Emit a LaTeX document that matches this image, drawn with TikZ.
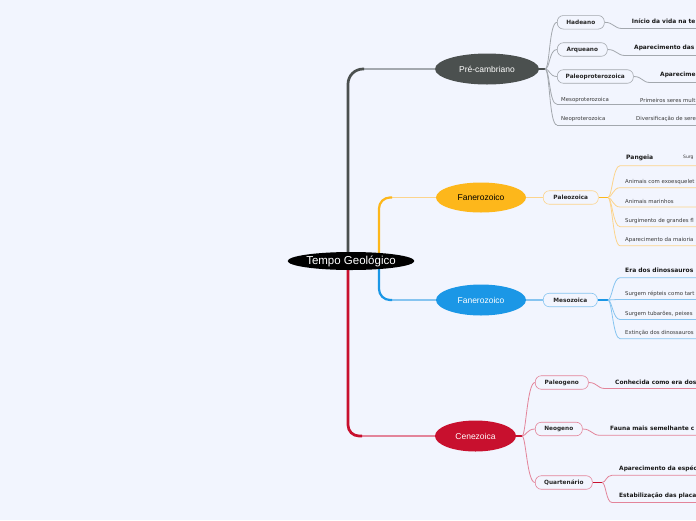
\documentclass[tikz,border=0pt]{standalone}
\usepackage{fontspec}
\setmainfont{Liberation Sans}
\newfontfamily\djvfont{DejaVu Sans}
\usetikzlibrary{shapes.geometric,calc}
\pgfdeclarelayer{back}
\pgfdeclarelayer{bg}
\pgfsetlayers{back,bg,main}
\definecolor{bgc}{HTML}{F2F5FE}
\definecolor{pcc}{HTML}{4B504F}
\definecolor{orc}{HTML}{FDB71B}
\definecolor{blc}{HTML}{1B97E6}
\definecolor{rdc}{HTML}{C8102E}
\definecolor{pcl}{HTML}{A3A8AE}
\definecolor{orl}{HTML}{FCD48C}
\definecolor{bll}{HTML}{86C4F0}
\definecolor{rdl}{HTML}{E3849A}
\definecolor{txt}{HTML}{3A3A3A}
\begin{document}
\begin{tikzpicture}[x=1pt,y=-1pt,
 ell/.style={ellipse, inner sep=0pt, font=\fontsize{8.5}{10}\selectfont},
 sbox/.style={draw=#1, line width=0.6pt, rounded corners=6pt, fill=bgc, inner sep=0pt, minimum height=13.5pt, font=\djvfont\bfseries\fontsize{5.8}{6.5}\selectfont, text=black!85, anchor=west},
 lf/.style={inner sep=0pt, anchor=west, font=\djvfont\fontsize{5.4}{6.5}\selectfont, text=txt},
 lfb/.style={inner sep=0pt, anchor=west, font=\djvfont\bfseries\fontsize{5.9}{7}\selectfont, text=black!90},
 cl/.style={draw=#1, line width=0.8pt},
]
\useasboundingbox (0,0) rectangle (696,520);
\begin{pgfonlayer}{back}
\fill[bgc] (0,0) rectangle (696,520);
\end{pgfonlayer}

% main nodes
\node[ell, fill=black, text=white, minimum width=125pt, minimum height=18pt, font=\fontsize{11.5}{13}\selectfont] (c) at (351,261) {Tempo Geológico};
\node[ell, fill=pcc, text=white, minimum width=104pt, minimum height=31pt] (pc) at (487,69) {Pré-cambriano};
\node[ell, fill=orc, text=black, minimum width=90pt, minimum height=30pt] (fo) at (481,197.5) {Fanerozoico};
\node[ell, fill=blc, text=white, minimum width=90pt, minimum height=31pt] (fb) at (481,300) {Fanerozoico};
\node[ell, fill=rdc, text=white, minimum width=81pt, minimum height=31pt] (ce) at (475.5,436) {Cenezoica};

% Pre-cambriano children
\node[sbox=pcl, minimum width=47pt] (h) at (557,22.3) {Hadeano};
\node[sbox=pcl, minimum width=50pt] (aq) at (557,49.5) {Arqueano};
\node[sbox=pcl, minimum width=76pt] (pp) at (557,76.5) {Paleoproterozoica};
\node[lf] (mp) at (561,100) {Mesoproterozoica};
\node[lf] (np) at (561,118.7) {Neoproterozoica};
\node[lfb] (l1) at (631.7,20.7) {Início da vida na te};
\node[lfb] (l2) at (634,48.3) {Aparecimento das};
\node[lfb] (l3) at (660,75) {Aparecime};
\node[lf] (l4) at (640,100) {Primeiros seres mult};
\node[lf] (l5) at (636,119) {Diversificação de sere};

% Paleozoica
\node[sbox=orl, minimum width=55pt] (pz) at (543,197.5) {Paleozoica};
\node[lfb, font=\djvfont\bfseries\fontsize{6}{7}\selectfont] (p1) at (626,157.5) {Pangeia};
\node[lf, font=\djvfont\fontsize{4.5}{5}\selectfont] (p1b) at (683,157.7) {Surg};
\node[lf] (p2) at (625,181.7) {Animais com exoesquelet};
\node[lf] (p3) at (625,201) {Animais marinhos};
\node[lf] (p4) at (625,221) {Surgimento de grandes fl};
\node[lf] (p5) at (625,239.7) {Aparecimento da maioria};

% Mesozoica
\node[sbox=bll, minimum width=54pt] (mz) at (543,300) {Mesozoica};
\node[lfb, font=\djvfont\bfseries\fontsize{6}{7}\selectfont] (m1) at (625,270.5) {Era dos dinossauros};
\node[lf] (m2) at (625,294) {Surgem répteis como tart};
\node[lf] (m3) at (625,314.3) {Surgem tubarões, peixes};
\node[lf] (m4) at (625,333.3) {Extinção dos dinossauros};

% Cenezoica
\node[sbox=rdl, minimum width=53pt] (pg) at (535,382.5) {Paleogeno};
\node[sbox=rdl, minimum width=47pt] (ng) at (535,429) {Neogeno};
\node[sbox=rdl, minimum width=57pt] (qt) at (535,482.5) {Quartenário};
\node[lfb] (c1) at (615,382) {Conhecida como era dos};
\node[lfb] (c2) at (610,428.7) {Fauna mais semelhante c};
\node[lfb] (c3) at (619,468.3) {Aparecimento da espéc};
\node[lfb] (c4) at (619,495.7) {Estabilização das placa};

% coordinates
\coordinate (tp) at (364,69);
\coordinate (to) at (392,197.5);
\coordinate (tb) at (392,300);
\coordinate (tr) at (362,436);
\coordinate (f1) at (545,69);
\coordinate (mpl) at (557,104.3);
\coordinate (mpe) at (700,104.3);
\coordinate (npl) at (557,125);
\coordinate (npe) at (700,125);
\coordinate (hl) at (622,28.5);   \coordinate (hle) at (700,28.5);
\coordinate (al) at (625,55.5);   \coordinate (ale) at (700,55.5);
\coordinate (pl) at (650,82.5);   \coordinate (ple) at (700,82.5);
\coordinate (f2) at (608,197.5);
\coordinate (f3) at (608,300);
\coordinate (f4) at (522,436);
\coordinate (f5) at (602,482.5);

\begin{pgfonlayer}{bg}
% trunk
\draw[pcl, line width=1.5pt] (tp) -- (pc.west);
\draw[pcc, line width=2.7pt, rounded corners=15pt] ($(c.center)+(-3,0)$) |- (tp);
\draw[orl, line width=1.4pt] (to) -- (fo.west);
\draw[orc, line width=2.2pt, rounded corners=11pt] ($(c.center)+(28,0)$) |- (to);
\draw[bll, line width=1.4pt] (tb) -- (fb.west);
\draw[blc, line width=2.2pt, rounded corners=11pt] ($(c.center)+(28,0)$) |- (tb);
\draw[rdl, line width=1.4pt] (tr) -- (ce.west);
\draw[rdc, line width=2.7pt, rounded corners=11pt] ($(c.center)+(-3,0)$) |- (tr);

% pre-cambriano fan
\draw[pcc, line width=1.8pt] (pc.east) -- (f1);
\foreach \t in {h.west, aq.west, pp.west, mpl, npl}
  \draw[cl=pcl] (f1) .. controls +(5,0) and +(-8,0) .. (\t);
\draw[cl=pcl] (mpl) -- (mpe);
\draw[cl=pcl] (npl) -- (npe);
\draw[cl=pcl] (h.east) .. controls +(9,0) and +(-8,0) .. (hl) -- (hle);
\draw[cl=pcl] (aq.east) .. controls +(9,0) and +(-8,0) .. (al) -- (ale);
\draw[cl=pcl] (pp.east) .. controls +(9,0) and +(-8,0) .. (pl) -- (ple);

% paleozoica
\draw[orl, line width=1.2pt] (fo.east) -- (pz.west);
\draw[orc, line width=1.8pt] (pz.east) -- (f2);
\foreach \y in {165.7,187.7,207,226.7,245.7}
  \draw[cl=orl] (f2) .. controls +(4,0) and +(-7,0) .. (620,\y) -- (700,\y);

% mesozoica
\draw[bll, line width=1.2pt] (fb.east) -- (mz.west);
\draw[blc, line width=1.8pt] (mz.east) -- (f3);
\foreach \y in {277.7,299.5,319.5,338.7}
  \draw[cl=bll] (f3) .. controls +(4,0) and +(-7,0) .. (620,\y) -- (700,\y);

% cenezoica
\draw[rdc, line width=1.8pt] (ce.east) -- (f4);
\foreach \t in {pg.west, ng.west, qt.west}
  \draw[cl=rdl] (f4) .. controls +(4,0) and +(-8,0) .. (\t);
\draw[cl=rdl] (pg.east) .. controls +(9,0) and +(-8,0) .. (605,388.5) -- (700,388.5);
\draw[cl=rdl] (ng.east) .. controls +(9,0) and +(-8,0) .. (600,435.3) -- (700,435.3);
\draw[rdc, line width=1.2pt] (qt.east) -- (f5);
\foreach \y in {475.3,502.5}
  \draw[cl=rdl] (f5) .. controls +(4,0) and +(-6,0) .. (612,\y) -- (700,\y);
\end{pgfonlayer}
\end{tikzpicture}
\end{document}
